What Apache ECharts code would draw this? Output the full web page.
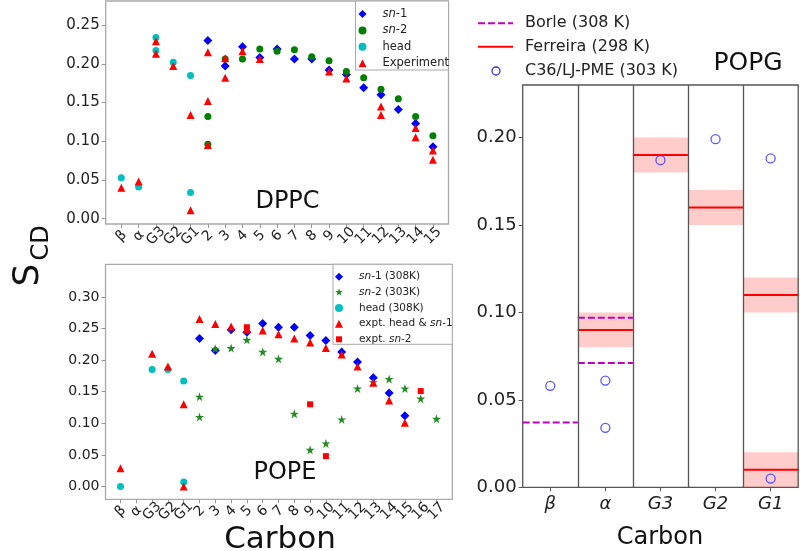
<!DOCTYPE html>
<html><head><meta charset="utf-8">
<script src="https://cdn.jsdelivr.net/npm/echarts@6/dist/echarts.min.js"></script>
<style>html,body{margin:0;padding:0;background:#fff}#c{width:800px;height:551px}</style>
</head><body><div id="c"></div>
<script>
// ---------- DATA ----------
const dppcLabels = ['β','α','G3','G2','G1','2','3','4','5','6','7','8','9','10','11','12','13','14','15'];
const dppcSn1C = ['2','3','4','5','6','7','8','9','10','11','12','13','14','15'];
const dppcSn1V = [0.230,0.197,0.222,0.208,0.219,0.206,0.206,0.192,0.186,0.169,0.160,0.141,0.123,0.093];
const dppcSn2C = ['2','2','3','4','5','6','7','8','9','10','11','12','13','14','15'];
const dppcSn2V = [0.132,0.096,0.206,0.206,0.219,0.216,0.218,0.209,0.204,0.190,0.182,0.167,0.155,0.132,0.107];
const dppcHeadC = ['β','α','G3','G3','G2','G1','G1'];
const dppcHeadV = [0.053,0.041,0.234,0.217,0.202,0.185,0.034];
const dppcExpC = ['β','α','G3','G3','G2','G1','G1','2','2','2','3','3','4','5','9','10','12','12','14','14','15','15'];
const dppcExpV = [0.040,0.048,0.229,0.213,0.197,0.134,0.011,0.215,0.152,0.095,0.207,0.182,0.216,0.206,0.190,0.181,0.145,0.134,0.117,0.105,0.088,0.076];
const dppcYTicks = [0,0.05,0.10,0.15,0.20,0.25];

const popeLabels = ['β','α','G3','G2','G1','2','3','4','5','6','7','8','9','10','11','12','13','14','15','16','17'];
const popeSn1C = ['2','3','4','5','6','7','8','9','10','11','12','13','14','15'];
const popeSn1V = [0.234,0.215,0.248,0.244,0.258,0.252,0.252,0.239,0.231,0.213,0.197,0.172,0.148,0.112];
const popeSn2C = ['2','2','3','4','5','6','7','8','9','10','11','12','13','14','15','16','17'];
const popeSn2V = [0.142,0.110,0.218,0.219,0.232,0.213,0.202,0.115,0.058,0.068,0.106,0.155,0.165,0.170,0.155,0.139,0.107];
const popeHeadC = ['β','G3','G2','G1','G1'];
const popeHeadV = [0.000,0.185,0.185,0.167,0.007];
const popeExpC = ['β','G3','G2','G1','G1','2','3','4','5','6','7','8','9','10','11','12','13','14','15'];
const popeExpV = [0.029,0.210,0.190,0.130,0.000,0.265,0.257,0.253,0.249,0.247,0.241,0.234,0.228,0.219,0.209,0.190,0.164,0.136,0.101];
const popeExpSn2C = ['5','9','10','16'];
const popeExpSn2V = [0.252,0.130,0.048,0.151];
const popeYTicks = [0,0.05,0.10,0.15,0.20,0.25,0.30];

const popgLabels = ['β','α','G3','G2','G1'];
const borleC = ['β','α','α'];
const borleV = [0.037,0.097,0.071];
const ferreiraC = ['α','G3','G2','G1','G1'];
const ferreiraV = [0.09,0.19,0.16,0.11,0.01];
const ferreiraErr = [0.01,0.01,0.01,0.01,0.01];
const c36C = ['β','α','α','G3','G2','G1','G1'];
const c36V = [0.058,0.061,0.034,0.187,0.199,0.188,0.005];
const popgYTicks = [0,0.05,0.10,0.15,0.20];

// ---------- HELPERS ----------
const FF = 'DejaVu Sans';
const TXT = '#222';
const pts = (labels, cs, vs) => cs.map((c, i) => [labels.indexOf(c), vs[i]]);
const idx = labels => labels.map((_, i) => i);
const STAR = 'path://M0,-1 L0.2245,-0.309 L0.951,-0.309 L0.363,0.118 L0.588,0.809 L0,0.382 L-0.588,0.809 L-0.363,0.118 L-0.951,-0.309 L-0.2245,-0.309 Z';

function xAxisLeft(gi, labels, min, max) {
  // an empty trailing label keeps ECharts' min/max overlap logic from hiding real labels
  return {
    gridIndex: gi, type: 'value', min, max,
    axisLine: {show: false, onZero: false}, splitLine: {show: false},
    axisTick: {show: true, length: 4, lineStyle: {color: '#999'}, customValues: idx(labels)},
    axisLabel: {customValues: idx(labels).concat([max]), formatter: v => (labels[v] !== undefined ? labels[v] : ''), rotate: 45,
      showMinLabel: true, showMaxLabel: true, hideOverlap: false,
      align: 'center', verticalAlign: 'middle', margin: 12, fontSize: 14, fontFamily: FF, color: TXT}
  };
}
function yAxisLeft(gi, ticks, min, max, fs) {
  return {
    gridIndex: gi, type: 'value', min, max,
    axisLine: {show: false, onZero: false}, splitLine: {show: false},
    axisTick: {show: true, length: 4, lineStyle: {color: '#999'}, customValues: ticks},
    axisLabel: {customValues: ticks, formatter: v => v.toFixed(2), margin: 6, fontSize: fs, fontFamily: FF, color: TXT}
  };
}
function sc(name, xi, yi, data, symbol, size, color) {
  return {name, type: 'scatter', xAxisIndex: xi, yAxisIndex: yi, data, symbol, symbolSize: size,
    itemStyle: {color, opacity: 1}, silent: true, animation: false};
}

// legend graphics
function mk(type, x, y, s, color) {
  const h = s / 2;
  if (type === 'circle') return {type: 'circle', shape: {cx: x, cy: y, r: h}, style: {fill: color}};
  if (type === 'diamond') return {type: 'polygon', shape: {points: [[x, y - h], [x + h, y], [x, y + h], [x - h, y]]}, style: {fill: color}};
  if (type === 'triangle') return {type: 'polygon', shape: {points: [[x, y - h], [x + h, y + h], [x - h, y + h]]}, style: {fill: color}};
  if (type === 'rect') return {type: 'rect', shape: {x: x - h, y: y - h, width: s, height: s}, style: {fill: color}};
  const p = [];
  for (let k = 0; k < 10; k++) {
    const r = k % 2 === 0 ? h : h * 0.4;
    const a = -Math.PI / 2 + k * Math.PI / 5;
    p.push([x + r * Math.cos(a), y + r * Math.sin(a)]);
  }
  return {type: 'polygon', shape: {points: p}, style: {fill: color}};
}
function tx(x, y, text, fs) {
  return {type: 'text', x, y, style: {text, fontSize: fs, fontFamily: FF, fill: TXT,
    align: 'left', verticalAlign: 'middle',
    rich: {i: {fontStyle: 'italic', fontSize: fs, fontFamily: FF, fill: TXT}, n: {fontSize: fs, fontFamily: FF, fill: TXT}}}};
}
function ctext(x, y, text, fs, rot) {
  return {type: 'text', x, y, rotation: rot || 0, style: {text, fontSize: fs, fontFamily: FF, fill: '#111', align: 'center', verticalAlign: 'middle'}};
}

const graphics = [];
// DPPC legend
graphics.push({type: 'rect', shape: {x: 355.5, y: 1, width: 93, height: 69}, style: {fill: '#fff', stroke: '#aaa', lineWidth: 1}});
[['diamond', '#0000ff', '{i|sn}{n|-1}'], ['circle', '#008000', '{i|sn}{n|-2}'], ['circle', '#00bfbf', 'head'], ['triangle', '#ff0000', 'Experiment']]
  .forEach((e, k) => { const y = 14 + k * 16.4; graphics.push(mk(e[0], 362.5, y, 8, e[1])); graphics.push(tx(382.5, y, e[2], 11.5)); });
// POPE legend
graphics.push({type: 'rect', shape: {x: 333, y: 264.3, width: 119.3, height: 80}, style: {fill: '#fff', stroke: '#aaa', lineWidth: 1}});
[['diamond', '#0000ff', '{i|sn}{n|-1 (308K)}'], ['star', '#228b22', '{i|sn}{n|-2 (303K)}'], ['circle', '#00bfbf', 'head (308K)'],
 ['triangle', '#ff0000', '{n|expt. head & }{i|sn}{n|-1}'], ['rect', '#ff0000', '{n|expt. }{i|sn}{n|-2}']]
  .forEach((e, k) => { const y = 276.7 + k * 15.65; graphics.push(mk(e[0], 339, y, e[0] === 'rect' ? 6 : 8, e[1])); graphics.push(tx(359, y, e[2], 10.5)); });
// POPG legend
graphics.push({type: 'line', shape: {x1: 478, y1: 23.3, x2: 513, y2: 23.3}, style: {stroke: '#bf00bf', lineWidth: 2, lineDash: [7, 3]}});
graphics.push(tx(525, 23.3, 'Borle (308 K)', 16));
graphics.push({type: 'line', shape: {x1: 478, y1: 46.7, x2: 513, y2: 46.7}, style: {stroke: '#ff0000', lineWidth: 2}});
graphics.push(tx(525, 46.7, 'Ferreira (298 K)', 16));
graphics.push({type: 'circle', shape: {cx: 496, cy: 71, r: 4}, style: {fill: 'none', stroke: '#3030ff', lineWidth: 1.3}});
graphics.push(tx(525, 71, 'C36/LJ-PME (303 K)', 16));
// panel titles
graphics.push(ctext(287.5, 202, 'DPPC', 24));
graphics.push(ctext(285, 473, 'POPE', 24));
graphics.push(ctext(748, 63, 'POPG', 25));
// axis titles
graphics.push(ctext(280, 540, 'Carbon', 31));
graphics.push(ctext(660, 538, 'Carbon', 24));
graphics.push(ctext(29, 275, 'S', 36, Math.PI / 2));
graphics.push(ctext(42, 243, 'CD', 24, Math.PI / 2));

// POPG custom renderers
function hseg(color, dash) {
  return (params, api) => {
    const x = api.value(0), v = api.value(1);
    const a = api.coord([x - 0.5, v]), b = api.coord([x + 0.5, v]);
    return {type: 'line', shape: {x1: a[0], y1: a[1], x2: b[0], y2: b[1]}, style: {stroke: color, lineWidth: 2, lineDash: dash}};
  };
}
function band(params, api) {
  const x = api.value(0), v = api.value(1), e = api.value(2);
  const a = api.coord([x - 0.5, v + e]), b = api.coord([x + 0.5, v - e]);
  return {type: 'rect', shape: {x: a[0], y: a[1], width: b[0] - a[0], height: b[1] - a[1]}, style: {fill: 'rgba(255,0,0,0.2)'}};
}

const option = {
  backgroundColor: '#fff',
  animation: false,
  grid: [
    {left: 105.7, top: 1, width: 342.8, height: 223, show: true, borderColor: '#aaa', borderWidth: 1.3, backgroundColor: 'transparent'},
    {left: 105.5, top: 264.3, width: 346.8, height: 235, show: true, borderColor: '#aaa', borderWidth: 1.3, backgroundColor: 'transparent'},
    {left: 522.7, top: 85, width: 275.5, height: 402.3, show: true, borderColor: '#555', borderWidth: 1.3, backgroundColor: 'transparent'}
  ],
  xAxis: [
    xAxisLeft(0, dppcLabels, -0.9, 18.9),
    xAxisLeft(1, popeLabels, -0.95, 21),
    {gridIndex: 2, type: 'value', min: -0.5, max: 4.5, axisLine: {show: false, onZero: false}, splitLine: {show: false},
     axisTick: {show: true, length: 4, lineStyle: {color: '#555'}, customValues: idx(popgLabels)},
     axisLabel: {customValues: idx(popgLabels), formatter: v => popgLabels[Math.round(v)], margin: 8,
       fontSize: 18, fontStyle: 'italic', fontFamily: FF, color: TXT}}
  ],
  yAxis: [
    yAxisLeft(0, dppcYTicks, -0.0068, 0.281, 15),
    yAxisLeft(1, popeYTicks, -0.0203, 0.3516, 14),
    {gridIndex: 2, type: 'value', min: 0, max: 0.23, axisLine: {show: false, onZero: false}, splitLine: {show: false},
     axisTick: {show: true, length: 4, lineStyle: {color: '#555'}, customValues: popgYTicks},
     axisLabel: {customValues: popgYTicks, formatter: v => v.toFixed(2), margin: 6, fontSize: 18, fontFamily: FF, color: TXT}}
  ],
  series: [
    sc('DPPC sn-1', 0, 0, pts(dppcLabels, dppcSn1C, dppcSn1V), 'diamond', 9, '#0000ff'),
    sc('DPPC sn-2', 0, 0, pts(dppcLabels, dppcSn2C, dppcSn2V), 'circle', 7, '#008000'),
    sc('DPPC head', 0, 0, pts(dppcLabels, dppcHeadC, dppcHeadV), 'circle', 7, '#00bfbf'),
    sc('DPPC Experiment', 0, 0, pts(dppcLabels, dppcExpC, dppcExpV), 'triangle', 8, '#ff0000'),
    sc('POPE sn-1', 1, 1, pts(popeLabels, popeSn1C, popeSn1V), 'diamond', 9, '#0000ff'),
    sc('POPE sn-2', 1, 1, pts(popeLabels, popeSn2C, popeSn2V), STAR, 9, '#228b22'),
    sc('POPE head', 1, 1, pts(popeLabels, popeHeadC, popeHeadV), 'circle', 7, '#00bfbf'),
    sc('POPE expt head sn-1', 1, 1, pts(popeLabels, popeExpC, popeExpV), 'triangle', 8, '#ff0000'),
    sc('POPE expt sn-2', 1, 1, pts(popeLabels, popeExpSn2C, popeExpSn2V), 'rect', 6, '#ff0000'),
    {name: 'Ferreira band', type: 'custom', xAxisIndex: 2, yAxisIndex: 2, silent: true,
     data: ferreiraC.map((c, i) => [popgLabels.indexOf(c), ferreiraV[i], ferreiraErr[i]]), renderItem: band},
    {name: 'Ferreira (298 K)', type: 'custom', xAxisIndex: 2, yAxisIndex: 2, silent: true,
     data: pts(popgLabels, ferreiraC, ferreiraV), renderItem: hseg('#ff0000', null)},
    {name: 'Borle (308 K)', type: 'custom', xAxisIndex: 2, yAxisIndex: 2, silent: true,
     data: pts(popgLabels, borleC, borleV), renderItem: hseg('#bf00bf', [7, 3])},
    {name: 'C36/LJ-PME (303 K)', type: 'scatter', xAxisIndex: 2, yAxisIndex: 2, silent: true,
     data: pts(popgLabels, c36C, c36V), symbol: 'circle', symbolSize: 9,
     itemStyle: {color: 'transparent', borderColor: '#3030ff', borderWidth: 1.3},
     markLine: {silent: true, symbol: 'none', label: {show: false}, lineStyle: {color: '#555', width: 1.3, type: 'solid'},
       data: popgLabels.slice(1).map((_, i) => ({xAxis: i + 0.5}))}}
  ],
  graphic: graphics
};
const chart = echarts.init(document.getElementById('c'), null, {renderer: 'canvas'});
chart.setOption(option);
</script>
</body></html>
